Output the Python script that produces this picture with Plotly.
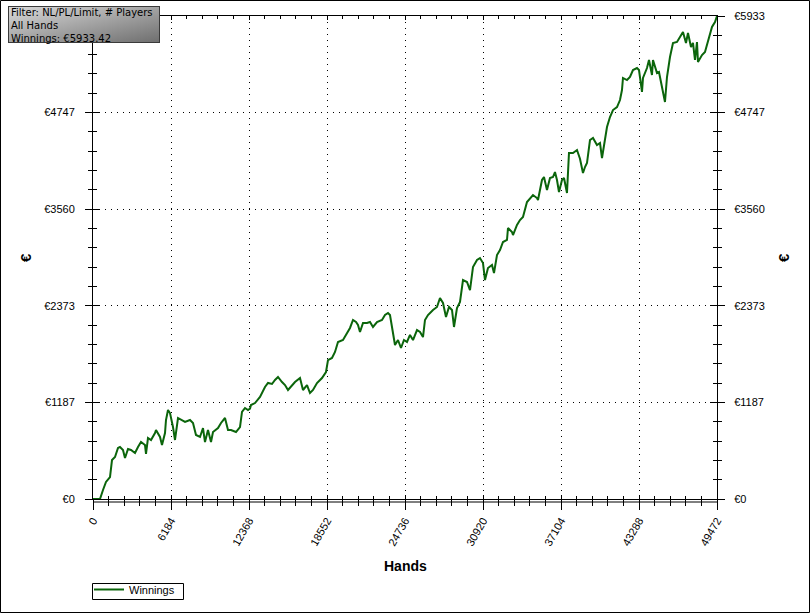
import base64
import plotly.graph_objects as go

# cumulative winnings (EUR) sampled along the hand count
hands = [0, 555, 793, 1030, 1348, 1427, 1506, 1744, 1982, 2141,
         2378, 2537, 2775, 3013, 3330, 3568, 3805, 4123, 4202, 4360,
         4598, 4915, 4995, 5312, 5470, 5708, 5787, 5946, 6105, 6342,
         6501, 6739, 6977, 7294, 7690, 7928, 8166, 8483, 8721, 8879,
         9117, 9355, 9514, 9910, 10148, 10465, 10703, 10941, 11337, 11654,
         11813, 12051, 12288, 12447, 12526, 12843, 13240, 13636, 13874, 14191,
         14429, 14667, 14984, 15222, 15460, 15777, 16015, 16411, 16649, 16966,
         17204, 17442, 17759, 18155, 18472, 18631, 18948, 19186, 19424, 19820,
         20137, 20375, 20613, 20851, 21009, 21168, 21406, 21723, 21961, 22198,
         22516, 22912, 23150, 23388, 23546, 23784, 23943, 24180, 24418, 24656,
         24894, 25132, 25370, 25687, 25925, 26162, 26321, 26559, 26717, 26955,
         27272, 27510, 27748, 27986, 28224, 28462, 28620, 28858, 29096, 29334,
         29651, 29889, 30126, 30444, 30681, 30919, 31078, 31316, 31633, 31791,
         32029, 32267, 32505, 32822, 32901, 33218, 33298, 33615, 33853, 34090,
         34408, 34645, 34883, 35200, 35280, 35597, 35755, 35993, 36231, 36469,
         36627, 36786, 36944, 37182, 37341, 37579, 37737, 38054, 38372, 38609,
         38847, 39006, 39164, 39402, 39640, 39957, 40195, 40354, 40512, 40750,
         40988, 41226, 41543, 41781, 41939, 42018, 42336, 42573, 42811, 43128,
         43287, 43525, 43604, 43921, 44080, 44317, 44397, 44714, 44872, 45110,
         45190, 45348, 45507, 45745, 45982, 46300, 46538, 46775, 47013, 47172,
         47410, 47568, 47727, 47885, 47964, 48282, 48520, 48758, 49075, 49313,
         49472]
winnings = [0, 0, 111, 209, 270, 356, 479, 516, 626, 639,
            602, 504, 614, 602, 565, 639, 700, 663, 553, 749,
            725, 811, 848, 762, 663, 811, 970, 1093, 1056, 884,
            725, 995, 970, 946, 970, 934, 786, 762, 872, 700,
            848, 700, 823, 872, 934, 995, 848, 848, 823, 884,
            1069, 1118, 1093, 1110, 1155, 1179, 1253, 1376, 1425, 1413,
            1462, 1499, 1437, 1400, 1339, 1400, 1437, 1486, 1339, 1400,
            1302, 1339, 1425, 1486, 1560, 1707, 1732, 1806, 1929, 1953,
            2039, 2101, 2199, 2174, 2137, 2051, 2162, 2162, 2174, 2113,
            2174, 2199, 2260, 2285, 2260, 2039, 1892, 1953, 1855, 1953,
            1929, 2015, 1953, 2076, 2051, 1990, 2199, 2260, 2285, 2322,
            2359, 2469, 2408, 2236, 2359, 2322, 2113, 2346, 2420, 2690,
            2666, 2567, 2850, 2936, 2960, 2899, 2690, 2838, 2874, 2776,
            2997, 3059, 3157, 3182, 3329, 3280, 3243, 3366, 3427, 3464,
            3648, 3697, 3734, 3697, 3673, 3919, 3955, 3796, 3943, 3955,
            4017, 3919, 3771, 3919, 3943, 3759, 4250, 4250, 4287, 4180,
            4005, 4078, 4127, 4410, 4435, 4349, 4373, 4189, 4324, 4570,
            4692, 4778, 4815, 4901, 5024, 5172, 5147, 5184, 5270, 5294,
            5270, 5000, 5172, 5294, 5393, 5208, 5393, 5233, 5245, 5049,
            4987, 4877, 5184, 5430, 5602, 5614, 5675, 5737, 5602, 5724,
            5552, 5602, 5393, 5614, 5368, 5454, 5491, 5638, 5798, 5859,
            5933.42]

info_lines = ['Filter: NL/PL/Limit, # Players', 'All Hands', 'Winnings: €5933.42']

total_hands = hands[-1]
total_win = winnings[-1]

W, H = 810, 613
L, R, T, B = 93, 93, 16, 114
pw, ph = W - L - R, H - T - B


def px_x(p):
    return (p - L) / pw


def px_y(p):
    return (H - B - p) / ph


font_name = 'Liberation Sans, Arial'
tickfont = dict(family=font_name, size=11, color='black')

# y ticks: 5 equal steps up to the final total
y_ticks = [total_win * i / 5 for i in range(6)]
y_labels = [f'€{v:.0f}' for v in y_ticks]
# the top-left label sits under the info box in the original
y_labels_left = y_labels[:-1] + ['']

fig = go.Figure()
fig.add_trace(go.Scatter(x=hands, y=winnings, mode='lines', name='Winnings',
                         line=dict(color='#0b650b', width=2)))
# dummy trace so the overlay axes (inner tick marks, right labels) get drawn
fig.add_trace(go.Scatter(x=[0], y=[0], xaxis='x2', yaxis='y2', mode='markers',
                         marker=dict(opacity=0), showlegend=False, hoverinfo='skip'))

x_common = dict(range=[0, total_hands], tickmode='linear', tick0=0, dtick=total_hands / 8,
                tickcolor='black', tickwidth=1, showline=True, linecolor='black', linewidth=1,
                zeroline=False, fixedrange=True, tickformat='d')
y_common = dict(range=[0, total_win], tickmode='array', tickvals=y_ticks,
                tickcolor='black', tickwidth=1, showline=True, linecolor='black', linewidth=1,
                zeroline=False, fixedrange=True)
y_minor = dict(tickmode='linear', tick0=0, dtick=total_win / 25, tickcolor='black', showgrid=False)

fig.update_layout(
    width=W, height=H,
    margin=dict(l=L, r=R, t=T, b=B, autoexpand=False),
    paper_bgcolor='white', plot_bgcolor='white',
    xaxis=dict(**x_common, ticks='outside', ticklen=10, mirror=True,
               showgrid=True, gridcolor='black', gridwidth=1, griddash='1px,5px',
               tickangle=-60, tickfont=tickfont,
               minor=dict(dtick=total_hands / 40, ticks='outside', ticklen=6,
                          tickcolor='black', showgrid=False)),
    xaxis2=dict(**x_common, overlaying='x', anchor='y', side='bottom', ticks='inside',
                ticklen=4, mirror='allticks', showticklabels=False, showgrid=False,
                minor=dict(dtick=total_hands / 40, ticks='inside', ticklen=3,
                           tickcolor='black', showgrid=False)),
    yaxis=dict(**y_common, ticktext=y_labels_left, ticks='outside', ticklen=7, mirror='allticks',
               showgrid=True, gridcolor='black', gridwidth=1, griddash='1px,5px',
               tickfont=tickfont, ticklabelstandoff=8,
               minor=dict(**y_minor, ticks='outside', ticklen=4)),
    yaxis2=dict(**y_common, ticktext=y_labels, overlaying='y', anchor='x', side='right',
                ticks='inside', ticklen=7, mirror='allticks', showgrid=False, tickfont=tickfont,
                ticklabelstandoff=14,
                minor=dict(**y_minor, ticks='inside', ticklen=4)),
    showlegend=True,
    legend=dict(x=px_x(89), y=px_y(575), xanchor='left', yanchor='top',
                bgcolor='rgba(0,0,0,0)', borderwidth=0,
                font=dict(family=font_name, size=11, color='black'),
                itemwidth=30, tracegroupgap=0),
)

# legend frame
fig.add_shape(type='rect', xref='paper', yref='paper',
              x0=px_x(92.5), x1=px_x(183.5), y0=px_y(599.5), y1=px_y(583.5),
              line=dict(color='black', width=1), fillcolor='rgba(0,0,0,0)')
# second bottom axis line
fig.add_shape(type='line', xref='paper', yref='paper', x0=0, x1=1,
              y0=-3 / ph, y1=-3 / ph, line=dict(color='black', width=1))
# outer frame
fig.add_shape(type='rect', xref='paper', yref='paper',
              x0=px_x(0.5), x1=px_x(W - 0.5), y0=px_y(H - 0.5), y1=px_y(0.5),
              line=dict(color='black', width=1), fillcolor='rgba(0,0,0,0)')

# axis titles
fig.add_annotation(text='<b>Hands</b>', xref='paper', yref='paper', x=0.5, y=px_y(566),
                   xanchor='center', yanchor='middle', showarrow=False,
                   font=dict(family=font_name, size=14, color='black'))
for xp in (25, 783):
    fig.add_annotation(text='<b>€</b>', xref='paper', yref='paper', x=px_x(xp), y=px_y(258),
                       xanchor='center', yanchor='middle', textangle=-90, showarrow=False,
                       font=dict(family=font_name, size=15, color='black'))

# grey info box in the top-left corner
svg = ('<svg xmlns="http://www.w3.org/2000/svg" width="152" height="37">'
       '<defs><linearGradient id="g" x1="0" y1="0" x2="1" y2="1">'
       '<stop offset="0" stop-color="#dadada"/><stop offset="1" stop-color="#6e6e6e"/>'
       '</linearGradient></defs>'
       '<rect x="0.5" y="0.5" width="151" height="36" fill="url(#g)" stroke="#3a3a3a"/></svg>')
src = 'data:image/svg+xml;base64,' + base64.b64encode(svg.encode()).decode()
fig.add_layout_image(source=src, xref='paper', yref='paper', x=px_x(8), y=px_y(6),
                     sizex=152 / pw, sizey=37 / ph, xanchor='left', yanchor='top',
                     sizing='stretch', layer='above')
fig.add_annotation(text='<br>'.join(info_lines), xref='paper', yref='paper',
                   x=px_x(9), y=px_y(5), xanchor='left', yanchor='top', align='left',
                   showarrow=False,
                   font=dict(family='DejaVu Sans', size=10, color='black'))

fig.write_html('out.html', config={'displayModeBar': False},
               post_script="document.body.style.margin='0';")
